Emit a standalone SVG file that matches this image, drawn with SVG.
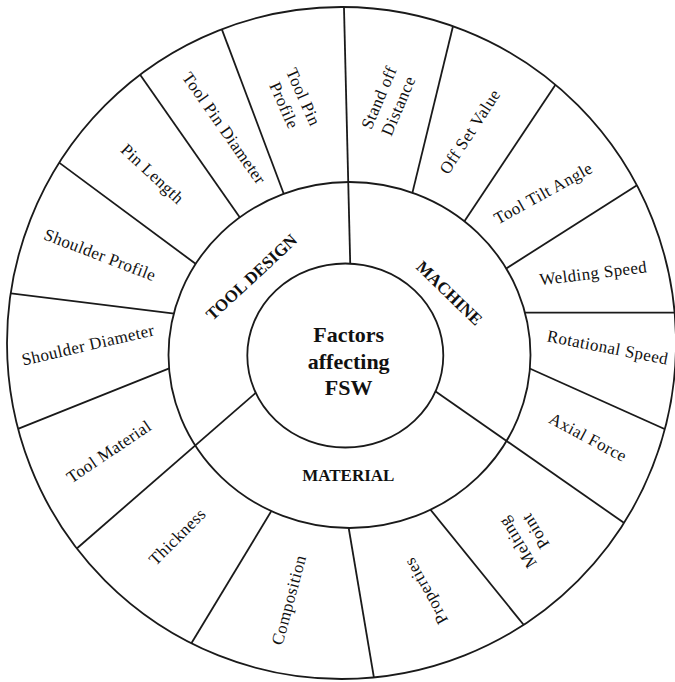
<svg xmlns="http://www.w3.org/2000/svg" width="675" height="682" viewBox="0 0 675 682">
<style>
.ring{fill:none;stroke:#1a1a1a;stroke-width:1.8}
.div{stroke:#1a1a1a;stroke-width:1.8;fill:none}
.lbl{font-family:"Liberation Serif","Times New Roman",serif;font-size:17px;letter-spacing:0.4px;fill:#111;text-anchor:middle;dominant-baseline:central}
.cat{font-family:"Liberation Serif","Times New Roman",serif;font-size:17px;font-weight:bold;fill:#111;text-anchor:middle;dominant-baseline:central}
.ctr{font-family:"Liberation Serif","Times New Roman",serif;font-size:22px;font-weight:bold;fill:#111;text-anchor:middle}
</style>
<defs>
<clipPath id="clipOuterRing"><path clip-rule="evenodd" d="M 7,343 a 334.5,336 0 1,0 669,0 a 334.5,336 0 1,0 -669,0 Z M 168.5,355 a 181,173 0 1,0 362,0 a 181,173 0 1,0 -362,0 Z"/></clipPath>
<clipPath id="clipAllRing"><path clip-rule="evenodd" d="M 7,343 a 334.5,336 0 1,0 669,0 a 334.5,336 0 1,0 -669,0 Z M 247.3,355.5 a 98,92 0 1,0 196,0 a 98,92 0 1,0 -196,0 Z"/></clipPath>
</defs>
<rect width="675" height="682" fill="#ffffff"/>
<g id="rings">
<ellipse class="ring" cx="341.5" cy="343" rx="334.5" ry="336"/>
<ellipse class="ring" cx="349.5" cy="355" rx="181" ry="173"/>
<ellipse class="ring" cx="345.3" cy="355.5" rx="98" ry="92"/>
</g>
<g id="connectors">
<g clip-path="url(#clipAllRing)">
<line class="div" x1="350.5" y1="275" x2="343.8" y2="0"/>
<line class="div" x1="273.5" y1="377.4" x2="67" y2="557"/>
<line class="div" x1="417.4" y1="378.8" x2="640" y2="534"/>
</g>
<g clip-path="url(#clipOuterRing)">
<line class="div" x1="408.6" y1="208.4" x2="455.3" y2="16.7"/>
<line class="div" x1="456.6" y1="233" x2="561.3" y2="75.9"/>
<line class="div" x1="495.8" y1="275.1" x2="647.6" y2="178.5"/>
<line class="div" x1="510" y1="312.7" x2="680" y2="312.7"/>
<line class="div" x1="518" y1="363.2" x2="675.1" y2="433.8"/>
<line class="div" x1="424.8" y1="502.7" x2="530.3" y2="633"/>
<line class="div" x1="346.5" y1="515" x2="375.6" y2="687.5"/>
<line class="div" x1="277.9" y1="500.2" x2="187" y2="650.5"/>
<line class="div" x1="181.7" y1="363.3" x2="9.2" y2="432.3"/>
<line class="div" x1="182.4" y1="314.6" x2="2.2" y2="292.3"/>
<line class="div" x1="206" y1="271.5" x2="53.4" y2="158.4"/>
<line class="div" x1="248.8" y1="230.3" x2="139.6" y2="73.9"/>
<line class="div" x1="289.4" y1="208.8" x2="219.7" y2="23.6"/>
</g>
</g>
<g id="center">
<text class="ctr" x="348.7" y="342">Factors</text>
<text class="ctr" x="348.7" y="368.5">affecting</text>
<text class="ctr" x="348.7" y="395">FSW</text>
</g>
<g id="tool-design"><text class="cat" transform="translate(251.7,277.3) rotate(-43)">TOOL DESIGN</text></g>
<g id="machine"><text class="cat" transform="translate(449.2,293.3) rotate(44)">MACHINE</text></g>
<g id="material"><text class="cat" x="348.3" y="475.5">MATERIAL</text></g>
<g id="tool-pin-profile"><text class="lbl" transform="translate(294,101) rotate(66)"><tspan x="0" y="-10.5">Tool Pin</tspan><tspan x="0" y="10.5">Profile</tspan></text></g>
<g id="tool-pin-diameter"><text class="lbl" transform="translate(224,128.3) rotate(55)">Tool Pin Diameter</text></g>
<g id="pin-length"><text class="lbl" transform="translate(152.3,174) rotate(43)">Pin Length</text></g>
<g id="shoulder-profile"><text class="lbl" transform="translate(100,255) rotate(21)">Shoulder Profile</text></g>
<g id="shoulder-diameter"><text class="lbl" transform="translate(88,345) rotate(-13)">Shoulder Diameter</text></g>
<g id="tool-material"><text class="lbl" transform="translate(109,451.7) rotate(-34)">Tool Material</text></g>
<g id="thickness"><text class="lbl" transform="translate(177.5,536.7) rotate(-45)">Thickness</text></g>
<g id="composition"><text class="lbl" transform="translate(289,600) rotate(-75)">Composition</text></g>
<g id="properties"><text class="lbl" transform="translate(426,591) rotate(-119)">Properties</text></g>
<g id="melting-point"><text class="lbl" transform="translate(526,537) rotate(-122)"><tspan x="0" y="-10.5">Melting</tspan><tspan x="0" y="10.5">Point</tspan></text></g>
<g id="axial-force"><text class="lbl" transform="translate(588,437.5) rotate(28)">Axial Force</text></g>
<g id="rotational-speed"><text class="lbl" transform="translate(607.6,347.6) rotate(11)">Rotational Speed</text></g>
<g id="welding-speed"><text class="lbl" transform="translate(593.3,273.3) rotate(-7)">Welding Speed</text></g>
<g id="tool-tilt-angle"><text class="lbl" transform="translate(543.3,193.3) rotate(-29)">Tool Tilt Angle</text></g>
<g id="off-set-value"><text class="lbl" transform="translate(470,131.7) rotate(-57)">Off Set Value</text></g>
<g id="standoff-distance"><text class="lbl" transform="translate(388.3,101.7) rotate(-67)"><tspan x="0" y="-10.5">Stand off</tspan><tspan x="0" y="10.5">Distance</tspan></text></g>
</svg>
